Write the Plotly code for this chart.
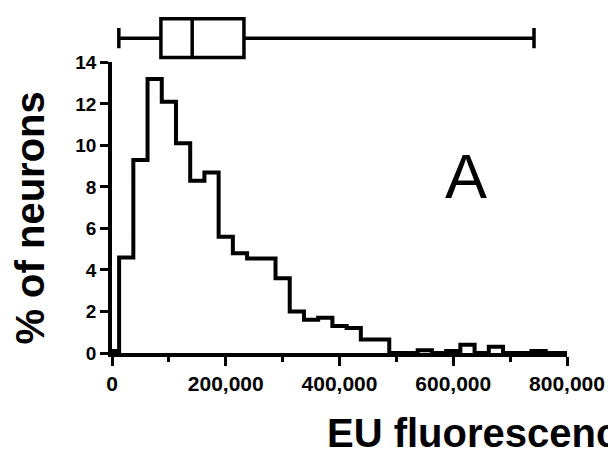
import plotly.graph_objects as go

# Histogram of EU fluorescence per neuron (25,000-wide bins, centred on multiples of 25,000)
bin_width = 25000
bin_centers = [i * bin_width for i in range(33)]
percent_neurons = [
    0.1, 4.6, 9.3, 13.2, 12.1, 10.1, 8.3, 8.7, 5.6, 4.8,
    4.55, 4.55, 3.6, 2.0, 1.6, 1.7, 1.3, 1.2, 0.65, 0.65,
    0.0, 0.0, 0.13, 0.0, 0.1, 0.4, 0.0, 0.3, 0.0, 0.0,
    0.1, 0.0, 0.0,
]

# Box-and-whisker summary shown above the histogram
box_min = 12000
box_q1 = 86000
box_median = 141000
box_q3 = 232000
box_max = 742000

y_ticks = [0, 2, 4, 6, 8, 10, 12, 14]
x_ticks = [0, 200000, 400000, 600000, 800000]

# Step outline: left edge of every bin, plus the closing right edge
edges = [c - bin_width / 2 for c in bin_centers]
step_x = edges + [bin_centers[-1] + bin_width / 2]
step_y = percent_neurons + [percent_neurons[-1]]

FONT = "Liberation Sans, Arial, sans-serif"

fig = go.Figure()

fig.add_trace(go.Scatter(
    x=step_x, y=step_y, mode="lines", line_shape="hv",
    line=dict(color="black", width=4), xaxis="x", yaxis="y",
    showlegend=False, hoverinfo="skip",
))

fig.add_trace(go.Box(
    y=[0], q1=[box_q1], median=[box_median], q3=[box_q3],
    lowerfence=[box_min], upperfence=[box_max],
    orientation="h", width=1.62, whiskerwidth=0.52,
    fillcolor="white", line=dict(color="black", width=3.5),
    xaxis="x", yaxis="y2", showlegend=False, hoverinfo="skip",
))

fig.update_layout(
    width=608, height=464,
    margin=dict(l=112.3, r=41, t=0, b=110.7),
    paper_bgcolor="white", plot_bgcolor="white",
    xaxis=dict(
        range=[0, 800000], tickvals=x_ticks, tickformat=",",
        showline=True, linecolor="black", linewidth=3.5,
        ticks="outside", ticklen=9, tickwidth=3, tickcolor="black",
        minor=dict(ticks="outside", ticklen=5, tickwidth=3, tickcolor="black", dtick=100000),
        showgrid=False, zeroline=False, anchor="y",
        tickfont=dict(family=FONT, size=21, color="black", weight="bold"),
    ),
    yaxis=dict(
        domain=[0, 0.8472], range=[0, 14], tickvals=y_ticks,
        showline=True, linecolor="black", linewidth=3.5,
        ticks="outside", ticklen=8, tickwidth=3, tickcolor="black",
        showgrid=False, zeroline=False,
        tickfont=dict(family=FONT, size=19, color="black", weight="bold"),
    ),
    yaxis2=dict(domain=[0.848, 1.0], range=[-1, 1.174], visible=False, fixedrange=True),
    annotations=[
        dict(text="% of neurons", textangle=-90, xref="paper", yref="paper",
             x=-0.1823, y=0.392, xanchor="center", yanchor="middle", showarrow=False,
             font=dict(family=FONT, size=40, color="black", weight="bold")),
        dict(text="EU fluorescence", xref="paper", yref="paper",
             x=0.4678, y=-0.234, xanchor="left", yanchor="middle", showarrow=False,
             font=dict(family=FONT, size=40, color="black", weight="bold")),
        dict(text="A", xref="paper", yref="paper",
             x=0.7779, y=0.5146, xanchor="center", yanchor="middle", showarrow=False,
             font=dict(family=FONT, size=63, color="black")),
    ],
)

fig.write_html("out.html")
